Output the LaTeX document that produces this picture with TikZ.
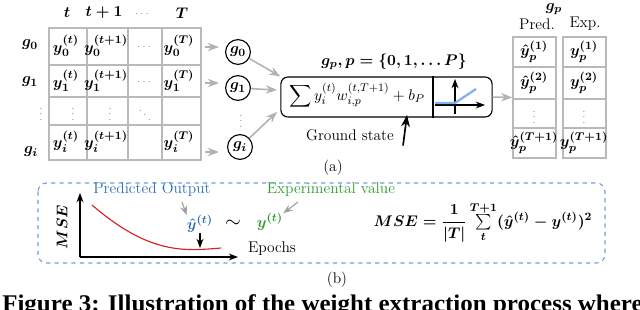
\documentclass[tikz,border=0pt]{standalone}
\usepackage{amsmath,amssymb}
\usepackage{bm}
\usepackage{graphicx}
\usepackage{fontspec}
\newfontfamily\capfont{Liberation Serif}
\usetikzlibrary{arrows.meta}
\definecolor{predblue}{HTML}{2F6DB5}
\definecolor{expgreen}{HTML}{2E9A2E}
\definecolor{lossred}{HTML}{D42020}
\definecolor{boxblue}{HTML}{6F9FD8}
\definecolor{relublue}{HTML}{80B2F2}

\begin{document}
\begin{tikzpicture}[
    x=0.025cm, y=-0.025cm,
    >=Stealth,
    every node/.style={font=\fontsize{11}{13}\selectfont},
    cell/.style={inner sep=0pt, font=\fontsize{11}{13}\selectfont\boldmath},
    dotlbl/.style={inner sep=0pt, text=gray, font=\scriptsize},
    gridln/.style={draw=gray!55, line width=1pt},
    feed/.style={->, draw=gray!60, line width=1.1pt},
    gnode/.style={circle, draw=black, thick, minimum size=0.62cm, inner sep=0pt,
                  font=\fontsize{11}{13}\selectfont\boldmath},
    outcol/.style={draw=gray!55, line width=1pt, minimum width=1.075cm,
                   minimum height=3.025cm, inner sep=0pt},
    hint/.style={->, gray!75, thick}
]
\useasboundingbox (0,0) rectangle (640,310);
\clip (0,0) rectangle (640,310);
% Table columns and rows
\def\xA{49}  \def\xB{87}  \def\xC{128} \def\xD{162} \def\xE{201}
\def\yA{28}  \def\yB{65}  \def\yC{97}  \def\yD{125} \def\yE{160}
% --- input table
\draw[gridln] (\xA,\yA) rectangle (\xE,\yE);
\foreach \x in {\xB,\xC,\xD} \draw[gridln] (\x,\yA) -- (\x,\yE);
\foreach \y in {\yB,\yC,\yD} \draw[gridln] (\xA,\y) -- (\xE,\y);
% column headers
\node[cell] (ht)  at (67,13)  {$t$};
\node[cell] (ht1) at (104,13) {$t+1$};
\node[dotlbl] (hdots) at (143,14) {$\cdots$};
\node[cell] (hT)  at (182,13) {$T$};
% row labels
\node[cell] (lg0) at (30,45)  {$g_0$};
\node[cell] (lg1) at (30,82)  {$g_1$};
\node[dotlbl] (lvd) at (41,110) {$\vdots$};
\node[cell] (lgi) at (31,152) {$g_i$};
% cells
\node[cell] (c00) at (66,46)  {$y_0^{(t)}$};
\node[cell] (c01) at (106,46) {$y_0^{(t+1)}$};
\node[dotlbl] (c02) at (145,47) {$\cdots$};
\node[cell] (c03) at (179,46) {$y_0^{(T)}$};
\node[cell] (c10) at (66,81)  {$y_1^{(t)}$};
\node[cell] (c11) at (106,81) {$y_1^{(t+1)}$};
\node[dotlbl] (c12) at (145,82) {$\cdots$};
\node[cell] (c13) at (179,81) {$y_1^{(T)}$};
\node[dotlbl] (c20) at (73,110)  {$\vdots$};
\node[dotlbl] (c21) at (110,110) {$\vdots$};
\node[dotlbl] (c22) at (145,111) {$\ddots$};
\node[cell] (c30) at (66,142)  {$y_i^{(t)}$};
\node[cell] (c31) at (106,142) {$y_i^{(t+1)}$};
\node[cell] (c33) at (179,142) {$y_i^{(T)}$};
% table -> feature circles
\coordinate (r0) at (205,47);  \coordinate (r0e) at (219,47);
\coordinate (r1) at (205,83);  \coordinate (r1e) at (219,83);
\coordinate (ri) at (205,152); \coordinate (rie) at (219,152);
\draw[feed] (r0) -- (r0e);
\draw[feed] (r1) -- (r1e);
\draw[feed] (ri) -- (rie);
\node[gnode] (g0) at (238,52)  {$g_0$};
\node[gnode] (g1) at (238,88)  {$g_1$};
\node[dotlbl] (gvd) at (241,117) {$\vdots$};
\node[gnode] (gi) at (240,147) {$g_i$};
% --- neuron box
\node[draw, thick, rounded corners=5pt, minimum width=5.28cm, minimum height=1cm,
      inner sep=0pt] (neuron) at (386.5,97) {};
\coordinate (div) at (433,97);
\draw[thick] (div |- neuron.north) -- (div |- neuron.south);
\node (wsum) at (357,96) {$\displaystyle\sum y_i^{(t)} w_{i,p}^{(t,T+1)} + b_P$};
\node[font=\fontsize{11}{13}\selectfont\boldmath] (gplab) at (394,62)
    {$g_p, p = \{0,1,\dots P\}$};
% activation
\coordinate (ax0) at (435,105); \coordinate (ax1) at (485,105);
\coordinate (ay0) at (455,114); \coordinate (ay1) at (455,79);
\draw[->, thick] (ax0) -- (ax1);
\draw[->, thick] (ay0) -- (ay1);
\draw[relublue, line width=1.6pt] (435,103) -- (455,103) -- (476,89);
% inputs into the neuron
\coordinate (in1) at (277,90);
\coordinate (in2) at (277,112);
\draw[feed] (g0) -- (neuron.north west);
\draw[feed] (g1) -- (in1);
\draw[feed] (gi) -- (in2);
% ground state
\node (gs) at (350,135) {Ground state};
\coordinate (gstip) at (407,115);
\draw[->, very thick] ([xshift=3pt]gs.south east) -- (gstip);
% --- output columns
\node[font=\fontsize{11}{13}\selectfont\boldmath] (gphead) at (554,9) {$g_p$};
\node (predhd) at (537,24) {Pred.};
\node (exphd)  at (585,24) {Exp.};
\node[outcol] (predcol) at (534.5,97.5) {};
\node[outcol] (expcol)  at (584.5,97.5) {};
\foreach \y in {67,99,128} {
  \draw[gridln] (predcol.west |- 0,\y) -- (predcol.east |- 0,\y);
  \draw[gridln] (expcol.west |- 0,\y) -- (expcol.east |- 0,\y);
}
\draw[feed] (neuron.east) -- (predcol.west);
\node[cell] (p1) at (534,52)  {$\hat{y}_p^{(1)}$};
\node[cell] (p2) at (534,83)  {$\hat{y}_p^{(2)}$};
\node[dotlbl] (p3) at (534,113) {$\vdots$};
\node[cell] (p4) at (534,143) {$\hat{y}_p^{(T+1)}$};
\node[cell] (e1) at (584,52)  {$y_p^{(1)}$};
\node[cell] (e2) at (584,83)  {$y_p^{(2)}$};
\node[dotlbl] (e3) at (584,113) {$\vdots$};
\node[cell] (e4) at (584,143) {$y_p^{(T+1)}$};
\node (suba) at (333,168) {(a)};
% --- panel (b)
\draw[boxblue, dashed, thick, rounded corners=6pt] (38,183) rectangle (605,263);
\coordinate (org) at (80,257);
\coordinate (ytop) at (80,193);
\coordinate (xend) at (238,257);
\draw[->, thick] (org) -- (ytop);
\draw[->, thick] (org) -- (xend);
\node[rotate=90, font=\fontsize{11}{13}\selectfont\boldmath] (msey) at (62,227) {$MSE$};
\draw[lossred, thick] (92,205) .. controls (150,255) and (185,251) .. (221,248);
\node[text=predblue] (predlbl) at (152,190) {Predicted Output};
\node[cell, text=predblue] (yhat) at (200,224) {$\hat{y}^{(t)}$};
\coordinate (poarr) at (182,202);
\draw[hint] (poarr) -- (yhat.north west);
\coordinate (ymin) at (200,248);
\draw[->, thick] (yhat.south) -- (ymin);
\node[font=\fontsize{14}{16}\selectfont] (sim) at (233,224) {$\sim$};
\node[cell, text=expgreen] (yexp) at (270,222) {$y^{(t)}$};
\node[text=expgreen] (explbl) at (331,190) {Experimental value};
\coordinate (evarr) at (298,202);
\draw[hint] (evarr) -- (yexp.north east);
\node (epochs) at (272,249) {Epochs};
\node[font=\fontsize{11}{13}\selectfont\boldmath] (msef) at (483,222)
    {$MSE = \dfrac{1}{|T|}\sum\limits_{t}^{T+1}(\hat{y}^{(t)} - y^{(t)})^2$};
\node (subb) at (337,280) {(b)};
% --- caption (cut by the frame)
\node[anchor=base west, inner sep=0pt, font=\capfont\bfseries\fontsize{17}{20}\selectfont]
    (caption) at (2,311)
    {\scalebox{1.045}[1]{Figure 3: Illustration of the weight extraction process where}};
\end{tikzpicture}
\end{document}
